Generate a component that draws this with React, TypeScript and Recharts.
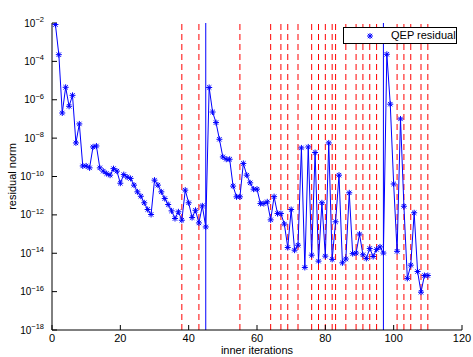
import {
  LineChart,
  Line,
  XAxis,
  YAxis,
  ReferenceLine,
  Legend,
  Label,
} from 'recharts'

const FONT = '"Liberation Sans", Arial, Helvetica, sans-serif'

// log10 of the QEP residual norm, one value per inner iteration (1..110)
const residualLog10 = [
  -2.08, -3.65, -6.69, -5.35, -6.34, -5.77, -8.25, -7.26, -9.45, -9.45,
  -9.55, -8.46, -8.41, -9.55, -9.72, -9.85, -9.93, -9.59, -9.72, -10.35,
  -9.9, -10.03, -10.1, -10.45, -10.8, -11.03, -11.37, -11.72, -11.98, -10.19,
  -10.45, -10.8, -11.15, -11.46, -11.79, -12.19, -11.84, -12.28, -10.71, -11.37,
  -12.14, -11.76, -12.42, -11.53, -12.63, -5.36, -6.64, -7.19, -8.06, -8.98,
  -9.1, -9.1, -10.5, -11.06, -11.06, -9.32, -9.93, -10.33, -10.66, -10.66,
  -11.41, -11.41, -11.32, -12.26, -11.05, -11.93, -11.93, -12.48, -13.7, -11.72,
  -13.84, -13.58, -8.51, -14.74, -8.46, -14.1, -8.75, -14.41, -11.37, -14.15,
  -8.25, -14.32, -12.36, -9.93, -14.5, -14.3, -10.85, -14.02, -13.99, -13.0,
  -14.08, -14.27, -13.75, -14.17, -13.8, -13.67, -13.99, -3.63, -6.23, -10.39,
  -13.9, -7.0, -11.55, -15.31, -14.62, -11.89, -14.95, -16.03, -15.16, -15.16,
]

// outer-iteration markers
const dashedIters = [
  38, 43, 55, 64, 67, 69, 72, 76, 78, 80, 82, 83, 86, 89, 91, 93, 95, 101, 103,
  105, 108, 110,
]
const solidIters = [45, 97]

const xTicks = [0, 20, 40, 60, 80, 100, 120]
const yTickExps = [-18, -16, -14, -12, -10, -8, -6, -4, -2]

const data = residualLog10.map((e, i) => ({ iter: i + 1, residual: Math.pow(10, e) }))
const yTicks = yTickExps.map((e) => Math.pow(10, e))

const BLUE = '#0000ff'

const Asterisk = (props: any) => {
  const { cx, cy, index } = props
  if (cx == null || cy == null) return <g key={index} />
  const r = 3
  const d = 2.2
  return (
    <path
      key={index}
      d={`M${cx - r},${cy}H${cx + r}M${cx},${cy - r}V${cy + r}M${cx - d},${cy - d}L${cx + d},${cy + d}M${cx - d},${cy + d}L${cx + d},${cy - d}`}
      stroke={BLUE}
      strokeWidth={1}
      fill="none"
    />
  )
}

const PowerTick = (props: any) => {
  const { x, y, payload } = props
  const exp = Math.round(Math.log10(payload.value))
  return (
    <text x={x} y={y + 3.5} textAnchor="end" fontFamily={FONT} fontSize={10} fill="#000">
      <tspan>10</tspan>
      <tspan dy={-4.5} fontSize={7.5}>
        {'\u2212' + Math.abs(exp)}
      </tspan>
    </text>
  )
}

const LegendBox = () => (
  <div
    style={{
      width: 112,
      height: 15,
      border: '1px solid #000',
      background: '#fff',
      position: 'relative',
      fontFamily: FONT,
      fontSize: 11,
    }}
  >
    <svg width={12} height={12} style={{ position: 'absolute', left: 20, top: 2 }}>
      <Asterisk cx={6} cy={6} index={0} />
    </svg>
    <span style={{ position: 'absolute', left: 47, top: 1, whiteSpace: 'nowrap' }}>
      QEP residual
    </span>
  </div>
)

export default function App() {
  return (
    <div style={{ position: 'absolute', left: 0, top: 0, width: 473, height: 357, background: '#fff' }}>
      <LineChart
        width={473}
        height={357}
        data={data}
        margin={{ top: 23, right: 11, bottom: 0, left: 0 }}
      >
        <XAxis
          dataKey="iter"
          type="number"
          domain={[0, 120]}
          ticks={xTicks}
          height={27}
          tickSize={-5}
          tickMargin={9}
          stroke="#000"
          tick={{ fill: '#000', fontSize: 11, fontFamily: FONT }}
          interval={0}
        >
          <Label
            content={(p: any) => {
              const vb = p.viewBox
              return (
                <text
                  x={vb.x + vb.width / 2}
                  y={354}
                  textAnchor="middle"
                  fontFamily={FONT}
                  fontSize={11}
                  fill="#000"
                >
                  inner iterations
                </text>
              )
            }}
          />
        </XAxis>
        <XAxis
          xAxisId="top"
          orientation="top"
          dataKey="iter"
          type="number"
          domain={[0, 120]}
          ticks={xTicks}
          height={0}
          tickSize={-5}
          tick={false}
          stroke="#000"
          interval={0}
        >
          <Label
            content={(p: any) => {
              const vb = p.viewBox
              return (
                <text
                  x={vb.x + vb.width / 2}
                  y={14}
                  textAnchor="middle"
                  fontFamily={FONT}
                  fontSize={11}
                  fill="#000"
                >
                  Convergence history: RTLSQEP – Lexact
                </text>
              )
            }}
          />
        </XAxis>
        <YAxis
          type="number"
          scale="log"
          domain={[1e-18, 1e-2]}
          allowDataOverflow
          ticks={yTicks}
          width={52}
          tickSize={-5}
          tickMargin={13}
          stroke="#000"
          tick={<PowerTick />}
          interval={0}
        >
          <Label
            content={(p: any) => {
              const vb = p.viewBox
              const cy = vb.y + vb.height / 2
              return (
                <text
                  x={16}
                  y={cy}
                  transform={`rotate(-90 16 ${cy})`}
                  textAnchor="middle"
                  fontFamily={FONT}
                  fontSize={11}
                  fill="#000"
                >
                  residual norm
                </text>
              )
            }}
          />
        </YAxis>
        <YAxis
          yAxisId="right"
          orientation="right"
          type="number"
          scale="log"
          domain={[1e-18, 1e-2]}
          allowDataOverflow
          ticks={yTicks}
          width={0}
          tickSize={-5}
          tick={false}
          stroke="#000"
          interval={0}
        />
        {dashedIters.map((it) => (
          <ReferenceLine
            key={'d' + it}
            x={it}
            stroke="#ff0000"
            strokeWidth={1}
            strokeDasharray="6 4"
            ifOverflow="hidden"
          />
        ))}
        {solidIters.map((it) => (
          <ReferenceLine key={'s' + it} x={it} stroke={BLUE} strokeWidth={1} />
        ))}
        <Line
          dataKey="residual"
          name="QEP residual"
          stroke={BLUE}
          strokeWidth={1}
          dot={<Asterisk />}
          activeDot={false}
          isAnimationActive={false}
        />
        <Legend
          layout="horizontal"
          verticalAlign="middle"
          align="center"
          content={() => <LegendBox />}
          wrapperStyle={{ left: 343, top: 27, width: 114, height: 17 }}
        />
      </LineChart>
    </div>
  )
}
